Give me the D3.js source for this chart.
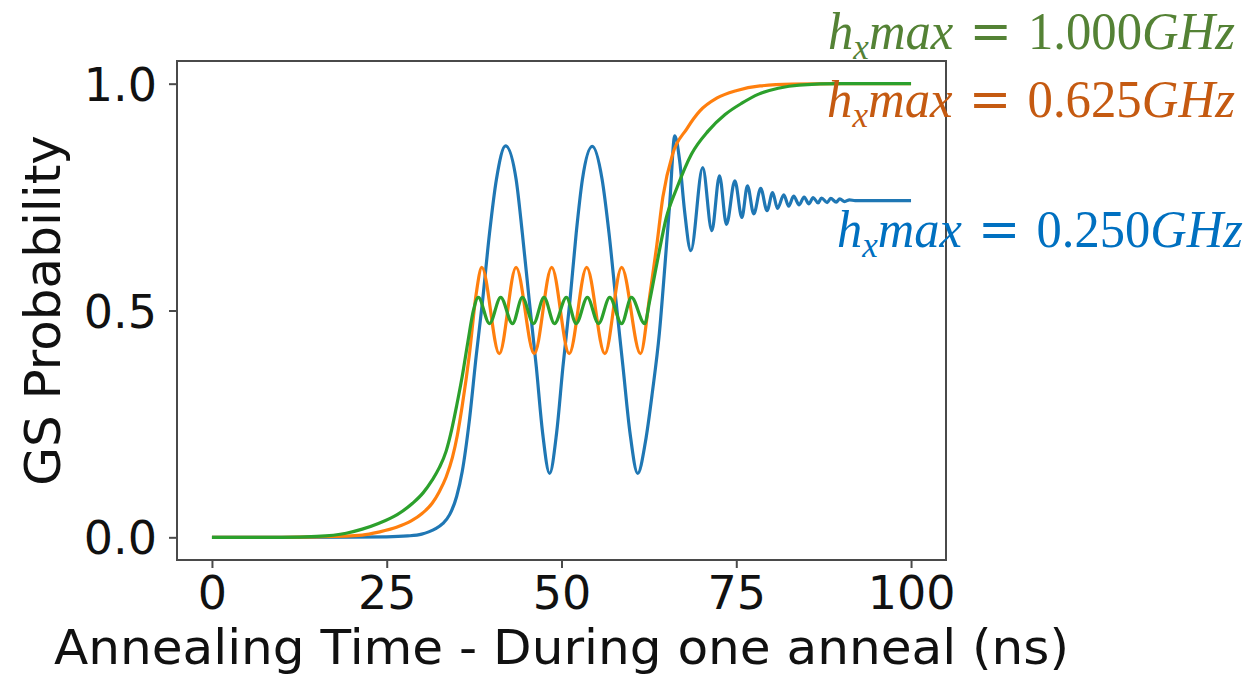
<!DOCTYPE html>
<html>
<head>
<meta charset="utf-8">
<script src="https://cdn.jsdelivr.net/npm/d3@7"></script>
<style>
  html, body { margin: 0; padding: 0; background: #fff; }
  svg { display: block; }
</style>
</head>
<body>
<svg id="chart" width="1249" height="674"></svg>
<script>
// ---------- data ----------
const xTicks = [0, 25, 50, 75, 100];
const yTicks = [0.0, 0.5, 1.0];
const xLabel = "Annealing Time - During one anneal (ns)";
const yLabel = "GS Probability";
const seriesNames = ["0.250", "0.625", "1.000"];

// [time (ns), GS probability]
const blueSeries = [
  [0,0],[10,0],[20,0.0005],[25,0.001],[28,0.003],[30,0.007],[31,0.012],[32,0.019],
  [33,0.03],[34,0.05],[35,0.09],[35.8,0.145],[36.8,0.255],[37.8,0.40],[38.7,0.52],
  [39.7,0.67],[40.7,0.79],[42.0,0.863],
  [43.5,0.79],[44.4,0.67],[45.4,0.52],[46.4,0.375],[47.3,0.23],[48.3,0.141],
  [49.3,0.23],[50.2,0.375],[51.2,0.52],[52.1,0.67],[53.0,0.79],[54.4,0.862],
  [55.8,0.79],[56.8,0.67],[57.8,0.52],[58.8,0.375],[59.8,0.23],[60.9,0.141],
  [62.0,0.21],[63.0,0.32],[64.0,0.45],[64.8,0.6],[65.5,0.74],[66.2,0.885],
  [66.9,0.83],[67.6,0.72],[68.5,0.632],[70.2,0.815],[71.5,0.676],[72.6,0.797],
  [73.6,0.69],[74.8,0.786],[75.8,0.705],[76.6,0.775],[77.5,0.713],[78.5,0.769],
  [79.4,0.72],[80.2,0.76],[80.9,0.725],[81.8,0.755],[82.5,0.73],[83.2,0.752],
  [84.0,0.733],[84.7,0.750],[85.4,0.735],[86.0,0.749],[86.7,0.737],[87.2,0.748],
  [88.0,0.738],[88.5,0.747],[89.3,0.739],[89.8,0.746],[90.5,0.740],[91.2,0.744],
  [92,0.742],[95,0.742],[100,0.742]
];
const orangeSeries = [
  [0,0],[10,0],[15,0.001],[21.5,0.005],[24,0.012],[26.4,0.022],[28.5,0.036],
  [30.1,0.053],[31.5,0.075],[32.5,0.10],[33.5,0.133],[34.4,0.176],[35.1,0.225],
  [35.8,0.29],[36.8,0.40],[37.8,0.537],[38.6,0.595],[41.1,0.405],
  [43.5,0.595],[46.1,0.405],[48.6,0.595],[51.1,0.405],[53.6,0.595],[56.2,0.405],
  [58.6,0.595],[61.3,0.405],[62.6,0.53],[63.6,0.64],[64.5,0.75],[65.9,0.845],
  [67.9,0.90],[69.8,0.94],[72.2,0.968],[75.1,0.985],[78.4,0.995],[83,0.999],
  [90,1.0],[100,1.0]
];
const greenSeries = [
  [0,0],[10,0],[15,0.002],[19.2,0.009],[21.5,0.018],[23.9,0.031],[26.5,0.05],
  [28.7,0.075],[30.2,0.098],[31.5,0.126],[32.5,0.153],[33.5,0.19],[34.3,0.238],
  [35.0,0.29],[35.8,0.355],[36.6,0.43],[37.4,0.50],[38.1,0.529],[39.7,0.471],
  [41.3,0.529],[43.0,0.471],[44.4,0.529],[46.0,0.471],[47.5,0.529],[49.0,0.471],
  [50.7,0.529],[52.1,0.471],[53.7,0.529],[55.3,0.471],[56.9,0.529],[58.6,0.471],
  [60.0,0.529],[61.9,0.471],[62.6,0.52],[63.6,0.60],[65.0,0.705],[66.5,0.77],
  [68.6,0.845],[71.0,0.896],[73.4,0.932],[75.8,0.957],[78.2,0.977],[81,0.99],
  [84,0.997],[90,1.0],[100,1.0]
];

// ---------- layout ----------
const svg = d3.select("#chart");
const W = 1249, H = 674;
svg.append("rect").attr("width", W).attr("height", H).attr("fill", "#fff");

const plot = {left: 177, right: 946, top: 61, bottom: 560};
const x = d3.scaleLinear().domain([-5, 105]).range([plot.left, plot.right]);
const y = d3.scaleLinear().domain([-0.05, 1.05]).range([plot.bottom, plot.top]);

const frameColor = "#4a4a4a";
const tickFont = "'DejaVu Sans', sans-serif";

// curves
const line = d3.line()
  .x(d => x(d[0]))
  .y(d => y(d[1]))
  .curve(d3.curveMonotoneX);

const series = [
  {data: blueSeries,   color: "#1f77b4"},
  {data: orangeSeries, color: "#ff7f0e"},
  {data: greenSeries,  color: "#2ca02c"}
];
svg.append("g").selectAll("path")
  .data(series).join("path")
  .attr("d", d => line(d.data))
  .attr("fill", "none")
  .attr("stroke", d => d.color)
  .attr("stroke-width", 3.2)
  .attr("stroke-linejoin", "round")
  .attr("stroke-linecap", "butt");

// axes
const xAxis = d3.axisBottom(x).tickValues(xTicks).tickFormat(d3.format("d"))
  .tickSize(8).tickPadding(8);
const yAxis = d3.axisLeft(y).tickValues(yTicks).tickFormat(d3.format(".1f"))
  .tickSize(8).tickPadding(12);

const gx = svg.append("g").attr("transform", `translate(0,${plot.bottom})`).call(xAxis);
const gy = svg.append("g").attr("transform", `translate(${plot.left},0)`).call(yAxis);
[gx, gy].forEach(g => {
  g.select(".domain").remove();
  g.selectAll(".tick line").attr("stroke", frameColor).attr("stroke-width", 2);
  g.selectAll(".tick text")
    .attr("fill", "#111")
    .style("font-family", tickFont)
    .style("font-size", "46px");
});
gx.selectAll(".tick text").attr("dy", null).attr("y", 49);
gy.selectAll(".tick text").attr("dy", "0.36em").attr("x", -20);

// frame
svg.append("rect")
  .attr("x", plot.left).attr("y", plot.top)
  .attr("width", plot.right - plot.left).attr("height", plot.bottom - plot.top)
  .attr("fill", "none").attr("stroke", frameColor).attr("stroke-width", 2);

// axis labels
svg.append("text")
  .attr("x", (plot.left + plot.right) / 2).attr("y", 664)
  .attr("text-anchor", "middle")
  .attr("textLength", 1015).attr("lengthAdjust", "spacingAndGlyphs")
  .style("font-family", tickFont).style("font-size", "48px").attr("fill", "#111")
  .text(xLabel);
svg.append("text")
  .attr("transform", `translate(60,${(plot.top + plot.bottom) / 2}) rotate(-90)`)
  .attr("text-anchor", "middle")
  .style("font-family", tickFont).style("font-size", "50px").attr("fill", "#111")
  .text(yLabel);

// annotations  h_x max = value GHz
const annots = [
  {value: seriesNames[2], color: "#548235", left: 828, right: 1235, base: 49},
  {value: seriesNames[1], color: "#C55A11", left: 827, right: 1235, base: 117},
  {value: seriesNames[0], color: "#0070C0", left: 837, right: 1243, base: 247}
];
const serif = "'Liberation Serif', 'DejaVu Serif', serif";
annots.forEach(a => {
  const g = svg.append("g");
  const t = g.append("text")
    .attr("x", 0).attr("y", 0)
    .attr("fill", a.color)
    .style("font-family", serif).style("font-size", "52px");
  t.append("tspan").style("font-style", "italic").text("h");
  t.append("tspan").style("font-style", "italic").style("font-size", "36px").attr("dy", 10).text("x");
  t.append("tspan").style("font-style", "italic").attr("dy", -10).text("max");
  t.append("tspan").style("font-family", "'DejaVu Serif', serif").text(" = ");
  t.append("tspan").text(a.value);
  t.append("tspan").style("font-style", "italic").text("GHz");
  const bb = t.node().getBBox();
  const sx = (a.right - a.left) / bb.width;
  g.attr("transform", `translate(${a.left - bb.x * sx},${a.base}) scale(${sx},1)`);
});
</script>
</body>
</html>
